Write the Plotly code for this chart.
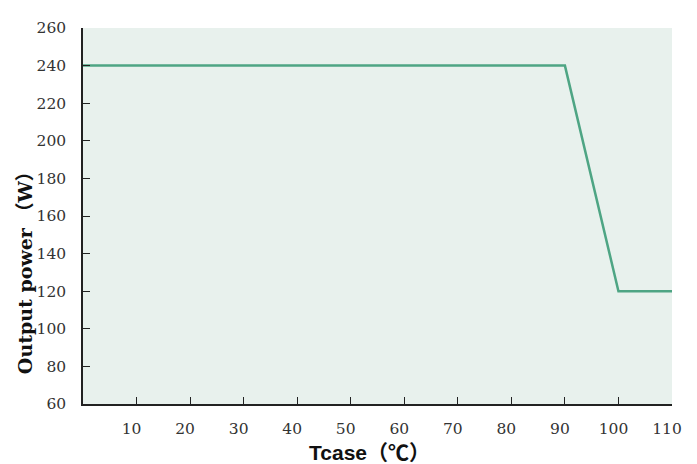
import plotly.graph_objects as go

tcase = [0, 90, 100, 110]
power = [240, 240, 120, 120]
x_ticks = [10, 20, 30, 40, 50, 60, 70, 80, 90, 100, 110]
y_ticks = [60, 80, 100, 120, 140, 160, 180, 200, 220, 240, 260]

fig = go.Figure()
fig.add_trace(go.Scatter(x=tcase, y=power, mode="lines",
                         line=dict(color="#4ea584", width=2.5),
                         hoverinfo="skip", showlegend=False))

tickfont = dict(family="DejaVu Serif", size=15.5, color="#333")
fig.update_layout(
    width=689, height=456,
    margin=dict(l=75, r=25, t=20, b=60),
    paper_bgcolor="white", plot_bgcolor="#e8f1ed",
    xaxis=dict(range=[0, 110], tickvals=x_ticks, ticks="inside", ticklen=7,
               tickcolor="#222", showline=True, linecolor="#222", linewidth=1.5,
               showgrid=False, zeroline=False, tickfont=tickfont,
               ticklabelstandoff=10, ticklabelshift=-5),
    yaxis=dict(range=[60, 260], tickvals=y_ticks, ticks="inside", ticklen=7,
               tickcolor="#222", showline=True, linecolor="#222", linewidth=1.5,
               showgrid=False, zeroline=False, tickfont=tickfont,
               ticklabelstandoff=12),
)
fig.add_annotation(text="<b>Tcase（℃）</b>", xref="paper", yref="paper",
                   x=0.487, y=-0.128, xanchor="center", yanchor="middle",
                   showarrow=False,
                   font=dict(family="Liberation Sans, Noto Sans CJK SC", size=21, color="#111"))
fig.add_annotation(text="<b>Output power （W）</b>", xref="paper", yref="paper",
                   x=-0.098, y=0.362, xanchor="center", yanchor="middle",
                   textangle=-90, showarrow=False,
                   font=dict(family="DejaVu Serif, Noto Sans CJK SC", size=19, color="#111"))
fig.write_html("out.html")
